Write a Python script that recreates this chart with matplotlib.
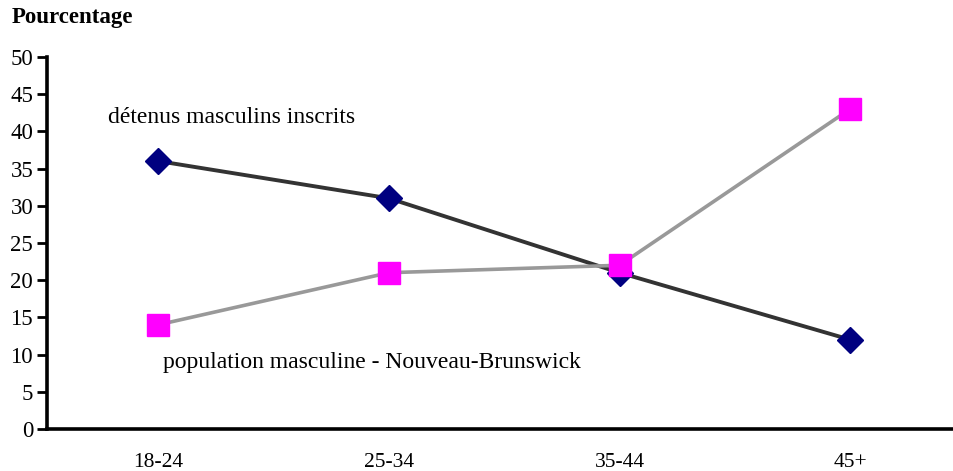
import matplotlib
matplotlib.use('Agg')
import matplotlib.pyplot as plt

plt.rcParams['font.family'] = ['Liberation Serif', 'DejaVu Serif']

groupes = ['18-24', '25-34', '35-44', '45+']
detenus = [36, 31, 21, 12]
population = [14, 21, 22, 43]
y_ticks = [0, 5, 10, 15, 20, 25, 30, 35, 40, 45, 50]

fig = plt.figure(figsize=(9.54, 4.71), dpi=100)
ax = fig.add_axes([0.0493, 0.0892, 0.9507, 0.790])

x = range(len(groupes))
ax.plot(x, population, color='#999999', linewidth=2.6, marker='s', markersize=16,
        markerfacecolor='#ff00ff', markeredgecolor='#ff00ff', zorder=2)
ax.plot(x, detenus, color='#333333', linewidth=2.8, marker='D', markersize=13,
        markerfacecolor='#000080', markeredgecolor='#000080', zorder=1)

ax.set_xlim(-0.482, 3.45)
ax.set_ylim(0, 50)
ax.set_xticks(list(x))
ax.set_xticklabels(groupes)
ax.set_yticks(y_ticks)
ax.tick_params(axis='x', length=0, pad=17, labelsize=15.5)
ax.tick_params(axis='y', length=7, width=2, direction='out', pad=3, labelsize=16.5)

for s in ['top', 'right']:
    ax.spines[s].set_visible(False)
for s in ['left', 'bottom']:
    ax.spines[s].set_linewidth(2.6)

fig.text(0.012, 0.962, 'Pourcentage', fontsize=16.5, fontweight='bold', va='center')
ax.text(-0.217, 41.8, 'détenus masculins inscrits', fontsize=17, va='center')
ax.text(0.022, 9.0, 'population masculine - Nouveau-Brunswick', fontsize=17, va='center')

plt.savefig('out.png', dpi=100)
